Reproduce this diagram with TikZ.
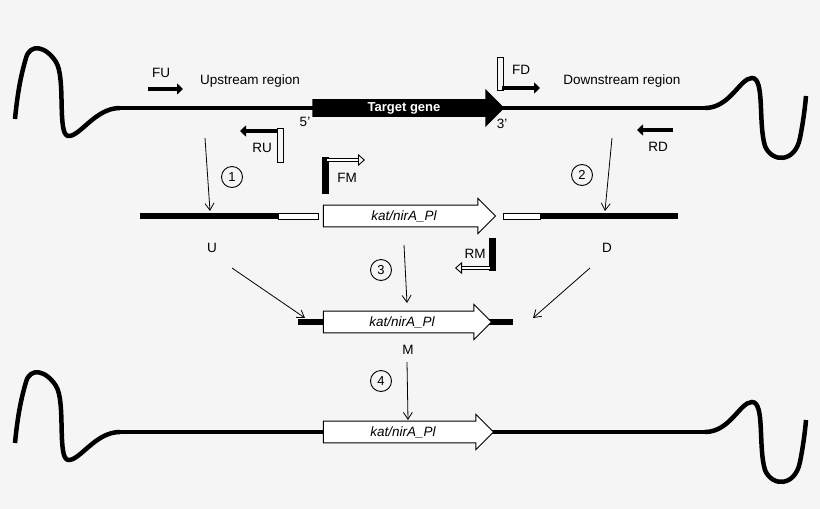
\documentclass[tikz,border=0pt]{standalone}
\usepackage{fontspec}
\setmainfont{Liberation Sans}
\usetikzlibrary{arrows.meta}
\usetikzlibrary{shapes.arrows}

\begin{document}
\begin{tikzpicture}[x=1pt,y=-1pt,
	dna/.style = {line width=4.5pt},
	lbl/.style = {font=\fontsize{13.5}{15}\selectfont},
	stepno/.style = {draw, circle, line width=0.9pt, minimum size=21pt, inner sep=0pt, font=\fontsize{13}{15}\selectfont},
	flow/.style = {-{Straight Barb[length=7pt,width=9pt]}, line width=0.8pt},
	cassette/.style = {draw, single arrow, fill=white, line width=0.9pt, minimum height=172pt, minimum width=35pt, single arrow head extend=6.5pt, inner ysep=4.5pt, font=\fontsize{13.5}{15}\selectfont\itshape},
	primer/.style = {-{Triangle[length=6pt,width=11pt]}, line width=4.5pt},
	oprimer/.style = {double=white, double distance=2.5pt, line width=0.9pt, -{Triangle[open,length=7pt,width=12pt]}},
	tag/.style = {draw, line width=0.9pt, minimum width=6pt, inner sep=0pt}]
	\useasboundingbox[fill=white!96!black] (0,0) rectangle (820,509);
	% chromosome, before and after
	\foreach \y/\n in {108/top, 432/bot} {
		\draw[dna, line join=round] (120,\y) .. controls (95,\y) and (80,\y+29) .. (68,\y+28) .. controls (57,\y+26) and (66,\y-30) .. (56,\y-46) .. controls (46,\y-62) and (30,\y-65) .. (26,\y-50) .. controls (20,\y-30) and (17,\y-10) .. (15,\y+11);
		\draw[dna] (120,\y) coordinate (\n L) -- (705,\y) coordinate (\n R);
		\draw[dna] (705,\y) .. controls (730,\y) and (740,\y-30) .. (752,\y-30) .. controls (765,\y-30) and (758,\y+15) .. (765,\y+38) .. controls (772,\y+55) and (795,\y+55) .. (800,\y+30) .. controls (803,\y+15) and (805,\y) .. (806,\y-12);
	}
	\node[single arrow, fill=black, minimum height=192pt, minimum width=38pt, single arrow head extend=10pt, inner ysep=2.75pt, text=white, font=\fontsize{13}{15}\selectfont\bfseries] (TG) at (404,108) {Target gene};
	\node[lbl] (five) at (305,122) {5'};
	\node[lbl] (three) at (502,124) {3'};
	\node[lbl] (up) at (250,81) {Upstream region};
	\node[lbl] (down) at (622,81) {Downstream region};
	% primers
	\draw[primer] (148,89) -- (183,89);
	\node[lbl] (FU) at (161,73) {FU};
	\draw[primer] (278,131) -- (240,131);
	\node[tag, minimum height=34pt] (RUt) at (280,145) {};
	\node[lbl] (RU) at (262,148) {RU};
	\node[tag, minimum height=33pt] (FDt) at (500,74) {};
	\draw[primer] (502,88) -- (540,88);
	\node[lbl] (FD) at (521,70) {FD};
	\draw[primer] (673,130) -- (637,130);
	\node[lbl] (RD) at (658,147) {RD};
	\node[tag, fill=black, minimum height=36pt] (FMt) at (325,175) {};
	\draw[oprimer] (327,160) -- (365,160);
	\node[lbl] (FM) at (347,178) {FM};
	\node[tag, fill=black, minimum height=32pt] (RMt) at (492,254) {};
	\draw[oprimer] (490,268) -- (455,268);
	\node[lbl] (RM) at (475,254) {RM};
	% fragments U, cassette, D
	\draw[line width=6pt] (140,216) -- (278,216);
	\draw[line width=0.9pt, fill=white] (278,213) rectangle (318,219);
	\node[cassette] (K1) at (404,216) {kat/nirA\_Pl};
	\draw[line width=0.9pt, fill=white] (503,213) rectangle (540,219);
	\draw[line width=6pt] (540,216) -- (678,216);
	\node[lbl] (U) at (212,248) {U};
	\node[lbl] (D) at (607,248) {D};
	% fused product M
	\draw[line width=6pt] (298,322) -- (513,322);
	\node[cassette, minimum height=168pt] (K2) at (402,322) {kat/nirA\_Pl};
	\node[lbl] (M) at (408,350) {M};
	% final
	\node[cassette, minimum height=170pt] (K3) at (403,432) {kat/nirA\_Pl};
	% steps
	\node[stepno] (s1) at (232,177) {1};
	\node[stepno] (s2) at (582,175) {2};
	\node[stepno] (s3) at (381,270) {3};
	\node[stepno] (s4) at (381,381) {4};
	\coordinate (a1) at (205,138); \coordinate (b1) at (210,211);
	\coordinate (a2) at (612,138); \coordinate (b2) at (605,211);
	\coordinate (a3) at (404,245); \coordinate (b3) at (407,303);
	\coordinate (a4) at (407,362); \coordinate (b4) at (408,420);
	\coordinate (aU) at (232,268); \coordinate (bU) at (305,318);
	\coordinate (aD) at (590,268); \coordinate (bD) at (533,318);
	\draw[flow] (a1) -- (b1);
	\draw[flow] (a2) -- (b2);
	\draw[flow] (a3) -- (b3);
	\draw[flow] (a4) -- (b4);
	\draw[flow] (aU) -- (bU);
	\draw[flow] (aD) -- (bD);
\end{tikzpicture}
\end{document}
